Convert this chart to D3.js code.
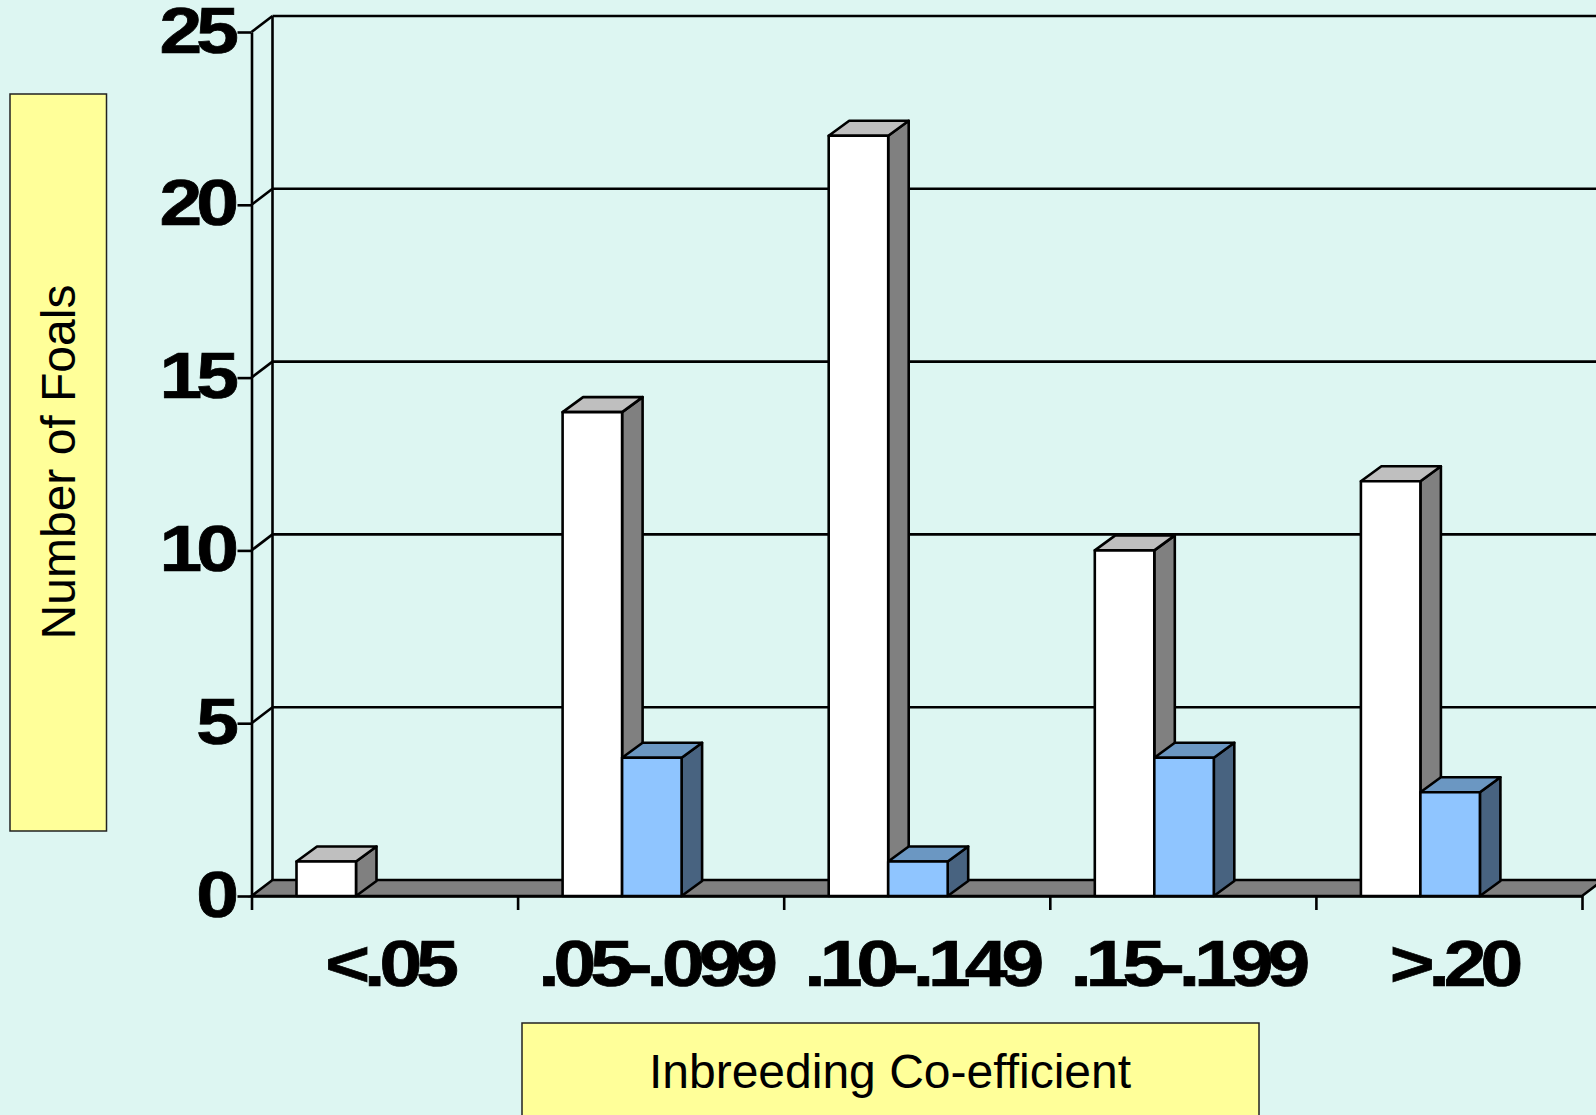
<!DOCTYPE html>
<html>
<head>
<meta charset="utf-8">
<script src="https://cdn.jsdelivr.net/npm/d3@7"></script>
<style>
html,body{margin:0;padding:0;background:#ddf6f2;overflow:hidden}
svg{display:block}
text{font-family:"Liberation Sans",Arial,sans-serif;fill:#000}
</style>
</head>
<body>
<svg id="chart" width="1596" height="1115"></svg>
<script>
var categories = ["<.05", ".05-.099", ".10-.149", ".15-.199", ">.20"];
var seriesNames = ["a", "b"];
var whiteValues = [1, 14, 22, 10, 12];
var blueValues = [0, 4, 1, 4, 3];
var yTicks = [0, 5, 10, 15, 20, 25];

var depthX = 21, depthY = 16;
var barDepthX = 20.5, barDepthY = 15;
var lineW = 2.6;
var svg = d3.select("#chart");

var x = d3.scaleBand().domain(categories).range([251.5, 1582]);
var xInner = d3.scaleBand().domain(seriesNames).range([45, 164]);
var y = d3.scaleLinear().domain([0, 25]).range([896, 32]);

var palette = {
	a: {front: "#ffffff", top: "#bfbfbf", side: "#808080"},
	b: {front: "#8fc5ff", top: "#6b97c2", side: "#486380"}
};

function pts(list){
	return list.map(function(p){ return p.join(","); }).join(" ");
}

// back wall and side wall
var left = x.range()[0], right = x.range()[1];
var walls = svg.append("g").attr("stroke", "#000").attr("stroke-width", lineW).attr("fill", "none");
yTicks.slice(1).forEach(function(t){
	walls.append("line").attr("x1", left).attr("y1", y(t)).attr("x2", left + depthX).attr("y2", y(t) - depthY);
	walls.append("line").attr("x1", left + depthX).attr("y1", y(t) - depthY).attr("x2", right + depthX).attr("y2", y(t) - depthY);
});
walls.append("line").attr("x1", left + depthX).attr("y1", y(25) - depthY).attr("x2", left + depthX).attr("y2", y(0) - depthY);

// floor
svg.append("polygon")
	.attr("points", pts([[left, y(0)], [left + depthX, y(0) - depthY], [right + depthX, y(0) - depthY], [right, y(0)]]))
	.attr("fill", "#808080").attr("stroke", "#000").attr("stroke-width", lineW);

// bars
function makeBar(cat, name, value){
	if (value === 0) return;
	var c = palette[name];
	var x0 = x(cat) + xInner(name), x1 = x0 + xInner.bandwidth();
	var y0 = y(value), yb = y(0);
	var g = svg.append("g").attr("stroke", "#000").attr("stroke-width", lineW).attr("stroke-linejoin", "round");
	g.append("polygon").attr("fill", c.side)
		.attr("points", pts([[x1, yb], [x1 + barDepthX, yb - barDepthY], [x1 + barDepthX, y0 - barDepthY], [x1, y0]]));
	g.append("polygon").attr("fill", c.top)
		.attr("points", pts([[x0, y0], [x0 + barDepthX, y0 - barDepthY], [x1 + barDepthX, y0 - barDepthY], [x1, y0]]));
	g.append("rect").attr("fill", c.front)
		.attr("x", x0).attr("y", y0).attr("width", x1 - x0).attr("height", yb - y0);
}
categories.forEach(function(cat, i){
	makeBar(cat, "a", whiteValues[i]);
	makeBar(cat, "b", blueValues[i]);
});

// axes
var yAxis = d3.axisLeft(y).tickValues(yTicks).tickSize(14).tickSizeOuter(0).tickFormat("");
var gy = svg.append("g").attr("transform", "translate(" + left + ",0)").call(yAxis);
var xEdges = d3.scaleLinear().domain([0, 5]).range([left, right]);
var xAxis = d3.axisBottom(xEdges).tickValues([0, 1, 2, 3, 4, 5]).tickSize(14).tickSizeOuter(0).tickFormat("");
var gx = svg.append("g").attr("transform", "translate(0," + y(0) + ")").call(xAxis);
svg.selectAll(".domain,.tick line").attr("stroke", "#000").attr("stroke-width", lineW);

// heavy tick labels, stretched sideways and packed tight
function makeHeavy(label, px, py, anchor){
	svg.append("text")
		.text(label)
		.attr("transform", "translate(" + px + "," + py + ") scale(1.2,1)")
		.attr("text-anchor", anchor)
		.attr("font-weight", "bold")
		.attr("font-size", 64)
		.attr("letter-spacing", -5)
		.attr("stroke", "#000")
		.attr("stroke-width", 0.7);
}
yTicks.forEach(function(t){
	makeHeavy(t, 233, y(t) + 20.5, "end");
});
categories.forEach(function(cat){
	makeHeavy(cat, x(cat) + x.bandwidth() / 2 + 4.5, 986, "middle");
});

// title boxes
svg.append("rect").attr("x", 10).attr("y", 94).attr("width", 96.5).attr("height", 737)
	.attr("fill", "#ffff99").attr("stroke", "#222").attr("stroke-width", 1.5);
svg.append("rect").attr("x", 522).attr("y", 1023).attr("width", 737).attr("height", 100)
	.attr("fill", "#ffff99").attr("stroke", "#222").attr("stroke-width", 1.5);

svg.append("text").text("Number of Foals")
	.attr("transform", "translate(75,462) rotate(-90)")
	.attr("text-anchor", "middle").attr("font-size", 48);
svg.append("text").text("Inbreeding Co-efficient")
	.attr("transform", "translate(890,1088)")
	.attr("text-anchor", "middle").attr("font-size", 48);
</script>
</body>
</html>
